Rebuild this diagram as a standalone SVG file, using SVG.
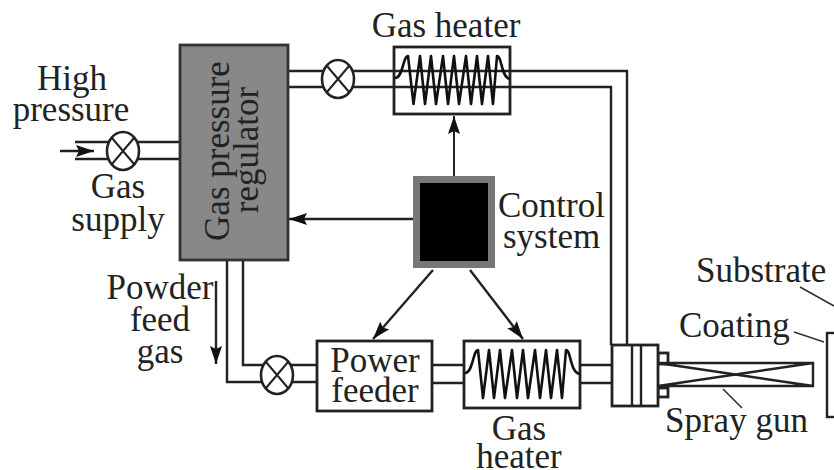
<svg xmlns="http://www.w3.org/2000/svg" width="834" height="470" viewBox="0 0 834 470">
<style>
text{font-family:"Liberation Serif","Times New Roman",serif;font-size:35px;fill:#222}
.m{text-anchor:middle}
.l{fill:none;stroke:#222;stroke-width:2.4}
.t{fill:none;stroke:#333;stroke-width:1.6}
.b{fill:#fff;stroke:#222;stroke-width:2.8}
.z{fill:none;stroke:#111;stroke-width:2.6;stroke-linejoin:round}
.v{fill:#fff;stroke:#222;stroke-width:2.6}
.a{stroke:#222;stroke-width:2.4;fill:none;marker-end:url(#ah)}
</style>
<defs>
<marker id="ah" markerUnits="userSpaceOnUse" markerWidth="20" markerHeight="14" refX="18" refY="7" orient="auto"><path d="M0,1 L18,7 L0,13 L3,7 Z" fill="#111"/></marker>
<g id="valve"><ellipse class="v" rx="16" ry="19"/><path class="l" d="M-11,-13 L11,13 M11,-13 L-11,13" style="stroke-width:2"/></g>
</defs>
<rect width="834" height="470" fill="#fff"/>
<g id="connectors">
<path class="l" d="M75,142H180M75,159H180"/>
<path class="a" d="M60,151H94"/>
<path class="l" d="M288,71H627V345M288,87H611V345"/>
<path class="l" d="M227,260V382H317M243,260V365H317"/>
<path class="l" d="M432,365H464M432,383H464M580,365H612M580,383H612"/>
<path class="a" d="M216,281V364"/>
<path class="a" d="M454,176V116" style="stroke-width:2"/>
<path class="a" d="M413,219H289"/>
<path class="a" d="M433,270L373,339"/>
<path class="a" d="M470,270L523,339"/>
<path class="t" d="M800,287L834,306M794,332L824,342M723,389L742,408"/>
</g>
<g id="regulator"><rect x="180" y="45" width="108" height="215" fill="#888" stroke="#333" stroke-width="2.8"/>
<text class="m" transform="translate(229,151) rotate(-90)">Gas pressure</text>
<text class="m" transform="translate(258,150) rotate(-90)">regulator</text></g>
<g id="valve-supply"><use href="#valve" x="123" y="151"/></g>
<g id="valve-top"><use href="#valve" x="338" y="79"/></g>
<g id="valve-bottom"><use href="#valve" x="277" y="375"/></g>
<g id="gas-heater-top"><rect class="b" x="394" y="47" width="116" height="67" fill-opacity="0"/>
<path class="z" d="M395,78C403,78 403,56 408,56L413.500,104L420,56L425,104L431,56L436,104L443,56L448,104L454,56L459,104L466,56L471,104L477,56L482,104L488,56L493,104L497,56C502,56 501,78 510,79"/>
<text class="m" x="446" y="37">Gas heater</text></g>
<g id="control-system"><rect x="416.500" y="179.500" width="75" height="85" fill="#000" stroke="#777" stroke-width="7"/>
<text x="498" y="217">Control</text><text x="503" y="248">system</text></g>
<g id="power-feeder"><rect class="b" x="317" y="341" width="115" height="70"/>
<text class="m" x="375" y="372">Power</text><text class="m" x="375" y="402">feeder</text></g>
<g id="gas-heater-bottom"><rect class="b" x="464" y="341" width="116" height="67" fill-opacity="0"/>
<path class="z" d="M465,373C473,373 473,350 478,350L483,398L489,350L494,398L500,350L505,398L512,350L517,398L523,350L528,398L535,350L540,398L546,350L551,398L557,350L562,398L566,350C571,350 570,373 580,374"/>
<text class="m" x="519" y="440">Gas</text><text class="m" x="519" y="468">heater</text></g>
<g id="spray-gun">
<rect class="b" x="658" y="353" width="10" height="11"/><rect class="b" x="658" y="388" width="10" height="9"/>
<rect class="b" x="612" y="345" width="46" height="61"/>
<path class="l" d="M632,345V406M641,345V406"/>
<path class="l" d="M658,363H813V386H658M658,363L813,386M658,386L813,363"/>
<text x="665" y="432">Spray gun</text></g>
<g id="substrate"><rect x="827" y="333" width="12" height="84" fill="#fff" stroke="#222" stroke-width="2.4"/>
<text x="696" y="282">Substrate</text><text x="679" y="337">Coating</text></g>
<g id="labels"><text class="m" x="72" y="90">High</text><text class="m" x="71" y="121">pressure</text>
<text class="m" x="118" y="198">Gas</text><text class="m" x="118" y="231">supply</text>
<text class="m" x="160" y="299">Powder</text><text class="m" x="160" y="331">feed</text><text class="m" x="160" y="363">gas</text></g>
</svg>
